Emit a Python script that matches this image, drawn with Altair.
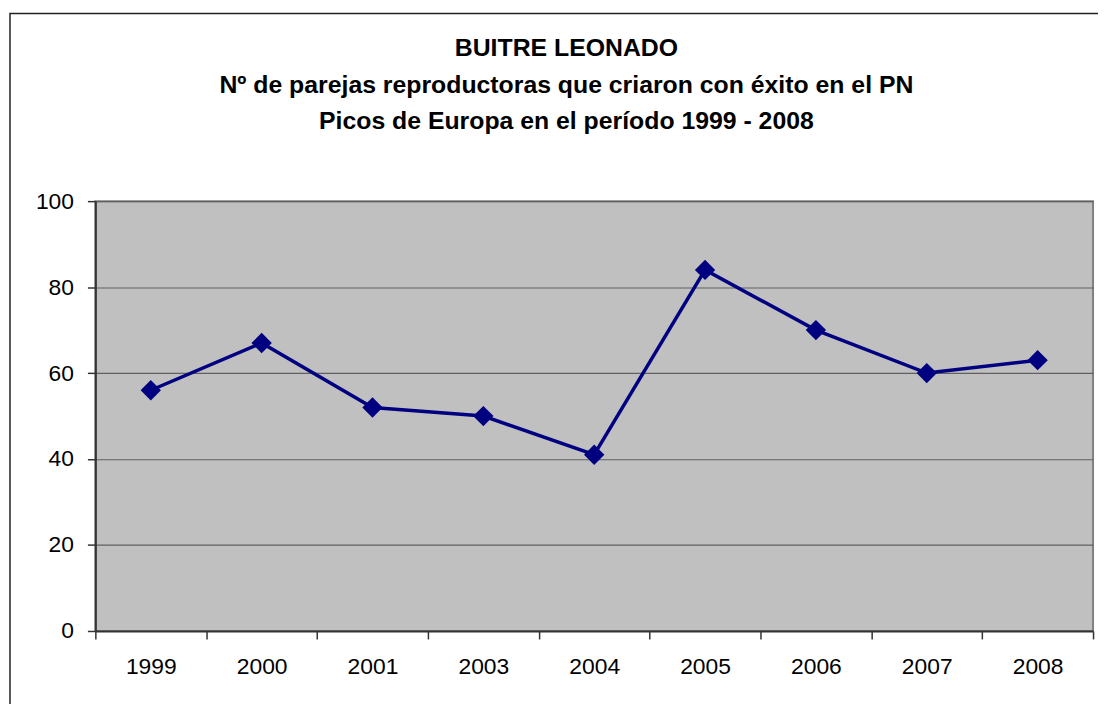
import altair as alt
import pandas as pd

years = ["1999", "2000", "2001", "2003", "2004", "2005", "2006", "2007", "2008"]
pairs = [56, 67, 52, 50, 41, 84, 70, 60, 63]
y_ticks = [0, 20, 40, 60, 80, 100]
title_lines = [
    "BUITRE LEONADO",
    "Nº de parejas reproductoras que criaron con éxito en el PN",
    "Picos de Europa en el período 1999 - 2008",
]

df = pd.DataFrame({"year": years, "pairs": pairs})

FONT = "Liberation Sans"

x_enc = alt.X(
    "year:N",
    sort=years,
    bandPosition=0.5,
    scale=alt.Scale(type="band", paddingInner=0, paddingOuter=0),
    axis=alt.Axis(
        title=None,
        labelAngle=0,
        tickBand="extent",
        tickSize=8,
        tickColor="#333333",
        tickWidth=1.5,
        domainColor="#333333",
        domainWidth=2,
        labelFont=FONT,
        labelFontSize=23,
        labelColor="black",
        labelPadding=17,
        grid=False,
    ),
)
y_enc = alt.Y(
    "pairs:Q",
    scale=alt.Scale(domain=[0, 100], nice=False),
    axis=alt.Axis(
        title=None,
        values=y_ticks,
        tickSize=8,
        tickColor="#333333",
        tickWidth=1.5,
        domainColor="#333333",
        domainWidth=2,
        labelFont=FONT,
        labelFontSize=23,
        labelColor="black",
        labelPadding=14,
        grid=True,
        gridColor="#606060",
        gridWidth=1.2,
    ),
)

frame = alt.Chart(alt.Data(values=[{}])).mark_rect(
    filled=False, stroke="#222222", strokeWidth=1.5
).encode(
    x=alt.value(-86), x2=alt.value(1200), y=alt.value(-189), y2=alt.value(700)
)

line = alt.Chart(df).mark_line(
    color="#000080",
    strokeWidth=3.5,
    point=alt.OverlayMarkDef(shape="diamond", size=420, filled=True, color="#000080", opacity=1),
).encode(x=x_enc, y=y_enc)

chart = alt.layer(frame, line).properties(
    width=1005,
    height=433,
    background="white",
    autosize=alt.AutoSizeParams(type="none"),
    padding={"left": 88, "top": 192, "right": 5, "bottom": 71},
    title=alt.TitleParams(
        text=title_lines,
        font=FONT,
        fontSize=25,
        fontWeight="bold",
        color="black",
        lineHeight=36.5,
        anchor="middle",
        frame="group",
        baseline="top",
        dx=-28,
        dy=122,
        offset=0,
    ),
).configure_view(
    fill="#C0C0C0", stroke="#808080", strokeWidth=2
)

chart.save("out.html", embed_options={"renderer": "svg", "actions": False})
